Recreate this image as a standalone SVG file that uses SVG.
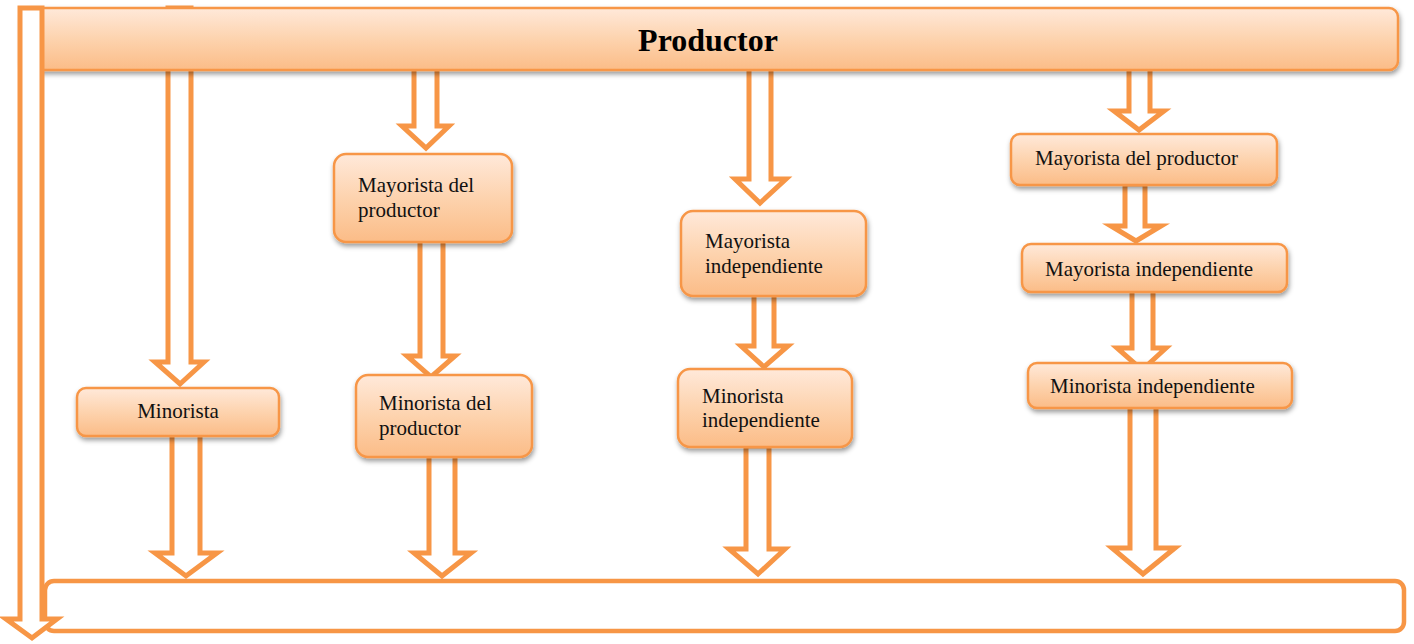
<svg xmlns="http://www.w3.org/2000/svg" width="1414" height="644" viewBox="0 0 1414 644">
  <defs>
    <linearGradient id="peach" x1="0" y1="0" x2="0" y2="1">
      <stop offset="0" stop-color="#FFE9DA"/>
      <stop offset="0.5" stop-color="#FDD3AE"/>
      <stop offset="1" stop-color="#FBBC87"/>
    </linearGradient>
    <filter id="shadow" x="-5%" y="-20%" width="110%" height="150%">
      <feDropShadow dx="1" dy="3" stdDeviation="2.5" flood-color="#000" flood-opacity="0.4"/>
    </filter>
  </defs>
  <style>
    .box { fill: url(#peach); stroke: #F79646; stroke-width: 2.5; filter: url(#shadow); }
    .arrow { fill: #FFFFFF; stroke: #F79646; stroke-width: 5; stroke-linejoin: miter; }
    .frame { fill: #FFFFFF; stroke: #F79646; stroke-width: 4.5; }
    .lbl { font-family: "Liberation Serif", "Times New Roman", serif; font-size: 21px; fill: #111; }
    .title { font-family: "Liberation Serif", "Times New Roman", serif; font-size: 32px; font-weight: bold; fill: #000; }
  </style>

  <g id="consumidor">
    <rect class="frame" x="45" y="581" width="1359" height="50" rx="9"/>
  </g>

  <g id="connectors">
    <polygon class="arrow" points="168,8 191,8 191,362 204,362 180,384 155,362 168,362"/>
    <polygon class="arrow" points="172,434 200,434 200,553 217,553 186,576 155,553 172,553"/>
    <polygon class="arrow" points="414,66 437,66 437,126 449,126 426,148 402,126 414,126"/>
    <polygon class="arrow" points="420,240 443,240 443,356 455,356 431,377 407,356 420,356"/>
    <polygon class="arrow" points="429,455 455,455 455,553 471,553 442,576 414,553 429,553"/>
    <polygon class="arrow" points="749,66 771,66 771,179 786,179 760,203 735,179 749,179"/>
    <polygon class="arrow" points="754,294 774,294 774,346 788,346 764,367 741,346 754,346"/>
    <polygon class="arrow" points="746,446 769,446 769,549 785,549 758,574 729,549 746,549"/>
    <polygon class="arrow" points="1129,66 1150,66 1150,111 1164,111 1139,130 1114,111 1129,111"/>
    <polygon class="arrow" points="1125,184 1145,184 1145,226 1161,226 1136,241 1111,226 1125,226"/>
    <polygon class="arrow" points="1132,290 1153,290 1153,348 1166,348 1142,370 1117,348 1132,348"/>
    <polygon class="arrow" points="1130,405 1156,405 1156,548 1175,548 1143,574 1112,548 1130,548"/>
  </g>

  <g id="productor">
    <rect class="box" x="22" y="8" width="1376" height="62" rx="9"/>
    <text class="title" x="708" y="51" text-anchor="middle">Productor</text>
  </g>

  <g id="minorista">
    <rect class="box" x="77" y="388" width="202" height="48" rx="9"/>
    <text class="lbl" x="178" y="418" text-anchor="middle">Minorista</text>
  </g>

  <g id="mayorista-productor-2">
    <rect class="box" x="334" y="154" width="178" height="88" rx="12"/>
    <text class="lbl" x="358" y="192">Mayorista del</text>
    <text class="lbl" x="358" y="217">productor</text>
  </g>

  <g id="minorista-productor">
    <rect class="box" x="356" y="375" width="176" height="82" rx="12"/>
    <text class="lbl" x="379" y="410">Minorista del</text>
    <text class="lbl" x="379" y="435">productor</text>
  </g>

  <g id="mayorista-independiente-3">
    <rect class="box" x="681" y="211" width="185" height="85" rx="12"/>
    <text class="lbl" x="705" y="248">Mayorista</text>
    <text class="lbl" x="705" y="273">independiente</text>
  </g>

  <g id="minorista-independiente-3">
    <rect class="box" x="678" y="369" width="174" height="78" rx="12"/>
    <text class="lbl" x="702" y="403">Minorista</text>
    <text class="lbl" x="702" y="427">independiente</text>
  </g>

  <g id="mayorista-productor-4">
    <rect class="box" x="1011" y="134" width="266" height="51" rx="9"/>
    <text class="lbl" x="1035" y="165">Mayorista del productor</text>
  </g>

  <g id="mayorista-independiente-4">
    <rect class="box" x="1022" y="244" width="265" height="48" rx="9"/>
    <text class="lbl" x="1045" y="276">Mayorista independiente</text>
  </g>

  <g id="minorista-independiente-4">
    <rect class="box" x="1028" y="363" width="264" height="45" rx="9"/>
    <text class="lbl" x="1050" y="393">Minorista independiente</text>
  </g>

  <g id="flecha-directa">
    <polygon class="arrow" points="20,8 42,8 42,619 57,619 32,638 6,619 20,619"/>
  </g>
</svg>
